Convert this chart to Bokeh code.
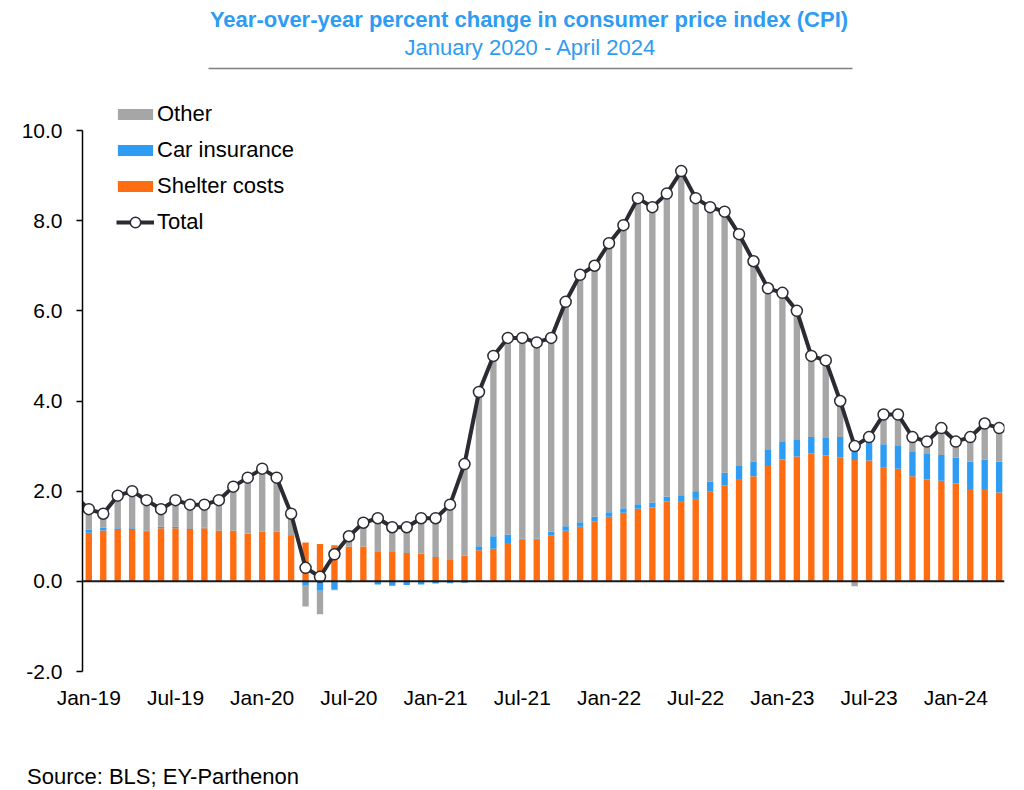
import numpy as np
import pandas as pd
from bokeh.plotting import figure
from bokeh.layouts import column
from bokeh.models import (ColumnDataSource, Range1d, FixedTicker, NumeralTickFormatter,
                          Span, Legend, LegendItem, Div)
from bokeh.core.properties import value
from bokeh.embed import file_html
from bokeh.resources import INLINE

# ---------------- data (Dec-18 .. Apr-24) ----------------
months = pd.date_range("2018-12-01", "2024-04-01", freq="MS")
month_labels = [m.strftime("%b-%y") for m in months]

total = [1.9,
         1.6, 1.5, 1.9, 2.0, 1.8, 1.6, 1.8, 1.7, 1.7, 1.8, 2.1, 2.3,
         2.5, 2.3, 1.5, 0.3, 0.1, 0.6, 1.0, 1.3, 1.4, 1.2, 1.2, 1.4,
         1.4, 1.7, 2.6, 4.2, 5.0, 5.4, 5.4, 5.3, 5.4, 6.2, 6.8, 7.0,
         7.5, 7.9, 8.5, 8.3, 8.6, 9.1, 8.5, 8.3, 8.2, 7.7, 7.1, 6.5,
         6.4, 6.0, 5.0, 4.9, 4.0, 3.0, 3.2, 3.7, 3.7, 3.2, 3.1, 3.4,
         3.1, 3.2, 3.5, 3.4]

shelter = [1.10,
           1.08, 1.13, 1.14, 1.14, 1.10, 1.18, 1.18, 1.14, 1.18, 1.12, 1.12, 1.06,
           1.10, 1.10, 1.01, 0.86, 0.83, 0.80, 0.77, 0.77, 0.67, 0.67, 0.63, 0.61,
           0.54, 0.49, 0.57, 0.69, 0.72, 0.85, 0.92, 0.92, 1.02, 1.12, 1.21, 1.33,
           1.43, 1.52, 1.61, 1.64, 1.77, 1.78, 1.83, 2.00, 2.13, 2.25, 2.33, 2.56,
           2.70, 2.77, 2.84, 2.79, 2.75, 2.69, 2.68, 2.52, 2.50, 2.33, 2.26, 2.23,
           2.17, 2.05, 2.05, 1.97]

car_insurance = [0.06,
                 0.07, 0.06, 0.04, 0.04, 0.02, 0.03, 0.03, 0.02, 0.01, 0.00, 0.00, 0.00,
                 0.00, 0.00, 0.02, -0.10, -0.21, -0.17, -0.02, -0.01, -0.07, -0.10, -0.08, -0.07,
                 -0.05, -0.04, -0.03, 0.09, 0.28, 0.19, 0.03, 0.03, 0.08, 0.10, 0.10, 0.10,
                 0.10, 0.10, 0.10, 0.11, 0.11, 0.13, 0.17, 0.21, 0.28, 0.31, 0.33, 0.37,
                 0.39, 0.38, 0.36, 0.39, 0.45, 0.42, 0.42, 0.52, 0.52, 0.54, 0.58, 0.57,
                 0.57, 0.60, 0.65, 0.68]

tick_labels = ["Jan-19", "Jul-19", "Jan-20", "Jul-20", "Jan-21", "Jul-21",
               "Jan-22", "Jul-22", "Jan-23", "Jul-23", "Jan-24"]
y_ticks = [-2, 0, 2, 4, 6, 8, 10]

title_text = "Year-over-year percent change in consumer price index (CPI)"
subtitle_text = "January 2020 - April 2024"
source_text = "Source: BLS; EY-Parthenon"

# ---------------- derived ----------------
total_a = np.array(total)
shelter_a = np.array(shelter)
car_a = np.array(car_insurance)
other_a = np.round(total_a - shelter_a - car_a, 3)

x = np.arange(len(months)) - 1  # Jan-19 -> 0

series = [("Shelter costs", shelter_a, "#FF6D12"),
          ("Car insurance", car_a, "#2E9CF2"),
          ("Other", other_a, "#A6A6A6")]
pos_base = np.zeros(len(x))
neg_base = np.zeros(len(x))
stacks = {}
for name, vals, col in series:
    bottom = np.where(vals >= 0, pos_base, neg_base + vals)
    top = np.where(vals >= 0, pos_base + vals, neg_base)
    pos_base = np.where(vals >= 0, pos_base + vals, pos_base)
    neg_base = np.where(vals < 0, neg_base + vals, neg_base)
    stacks[name] = (bottom, top, col)

FONT = "Liberation Sans"
BLUE = "#2E9CF2"
LINE = "#2B2B33"

# ---------------- layout geometry (pixels) ----------------
W, H = 1024, 763
FOOT_H = 27
FL, FR, FT, FB = 82, 1004, 0, 671       # plot frame
X0, X1 = -0.436, 63.37
YMIN, YTOP_TICK = -2.0, 10.0
PX_TICK_TOP = 130                        # pixel row of the 10.0 tick
unit = (FB - PX_TICK_TOP) / (YTOP_TICK - YMIN)
Y1 = YTOP_TICK + (PX_TICK_TOP - FT) / unit


def px_x(px):
    return X0 + (px - FL) / (FR - FL) * (X1 - X0)


def px_y(py):
    return Y1 - (py - FT) / (FB - FT) * (Y1 - YMIN)


p = figure(width=W, height=H, x_range=Range1d(X0, X1), y_range=Range1d(YMIN, Y1),
           toolbar_location=None, output_backend="svg",
           min_border_left=FL, min_border_right=W - FR, min_border_top=FT,
           min_border_bottom=H - FB, outline_line_color=None)
p.xgrid.visible = False
p.ygrid.visible = False

# header texts and separator
p.text(x=[px_x(528.5)], y=[px_y(19)], text=[title_text], text_align="center",
       text_baseline="middle", text_font=value(FONT), text_font_style="bold",
       text_font_size="22px", text_color=BLUE)
p.text(x=[px_x(530)], y=[px_y(47)], text=[subtitle_text], text_align="center",
       text_baseline="middle", text_font=value(FONT), text_font_size="22px", text_color=BLUE)
p.segment(x0=[px_x(208)], y0=[px_y(68)], x1=[px_x(852)], y1=[px_y(68)],
          line_color="#7F7F7F", line_width=1.5)

# bars
renderers = {}
for name in ["Shelter costs", "Car insurance", "Other"]:
    b, t, col = stacks[name]
    src = ColumnDataSource(dict(x=x, bottom=b, top=t))
    renderers[name] = p.vbar(x="x", bottom="bottom", top="top", width=0.44, source=src,
                             fill_color=col, line_color=None)

p.add_layout(Span(location=0, dimension="width", line_color="#1A1A1A", line_width=2))

tsrc = ColumnDataSource(dict(x=x, total=total_a))
r_line = p.line(x="x", y="total", source=tsrc, line_color=LINE, line_width=4)
r_pts = p.scatter(x="x", y="total", source=tsrc, size=11, fill_color="white",
                  line_color=LINE, line_width=1.5)

# y axis
p.yaxis.ticker = FixedTicker(ticks=y_ticks)
p.yaxis.bounds = (YMIN, YTOP_TICK)
p.yaxis.formatter = NumeralTickFormatter(format="0.0")
p.yaxis.axis_line_color = "black"
p.yaxis.axis_line_width = 1.5
p.yaxis.major_tick_line_color = "black"
p.yaxis.major_tick_line_width = 1.5
p.yaxis.major_tick_out = 6
p.yaxis.major_tick_in = 0
p.yaxis.minor_tick_line_color = None
p.yaxis.major_label_standoff = 14
p.yaxis.major_label_text_font = FONT
p.yaxis.major_label_text_font_size = "21px"
p.yaxis.major_label_text_color = "black"

# x axis
tick_pos = [month_labels.index(lbl) - 1 for lbl in tick_labels]
p.xaxis.ticker = FixedTicker(ticks=tick_pos)
p.xaxis.major_label_overrides = {int(tp): lbl for tp, lbl in zip(tick_pos, tick_labels)}
p.xaxis.axis_line_color = None
p.xaxis.major_tick_line_color = None
p.xaxis.minor_tick_line_color = None
p.xaxis.major_label_standoff = 8
p.xaxis.major_label_text_font = FONT
p.xaxis.major_label_text_font_size = "21px"
p.xaxis.major_label_text_color = "black"

# legends
common = dict(orientation="vertical", background_fill_alpha=0, border_line_alpha=0,
              padding=0, margin=0, label_text_font=FONT, label_text_font_size="22px",
              label_text_color="black", label_height=25)
legend_bars = Legend(items=[LegendItem(label="Other", renderers=[renderers["Other"]]),
                            LegendItem(label="Car insurance", renderers=[renderers["Car insurance"]]),
                            LegendItem(label="Shelter costs", renderers=[renderers["Shelter costs"]])],
                     location=(31, FB - 199), spacing=10, glyph_width=44, glyph_height=14,
                     label_standoff=0, **common)
legend_total = Legend(items=[LegendItem(label="Total", renderers=[r_line, r_pts])],
                      location=(34, FB - 235), spacing=0, glyph_width=38, glyph_height=26,
                      label_standoff=3, **common)
p.add_layout(legend_bars)
p.add_layout(legend_total)

# source note (below the chart)
note = Div(text=source_text, width=W - 27, height=FOOT_H, margin=(0, 0, 0, 27),
           styles={"font-family": FONT, "font-size": "22px", "color": "black",
                   "line-height": f"{FOOT_H}px", "white-space": "nowrap"})

layout = column(p, note, spacing=0)
open("out.html", "w").write(file_html(layout, INLINE))
